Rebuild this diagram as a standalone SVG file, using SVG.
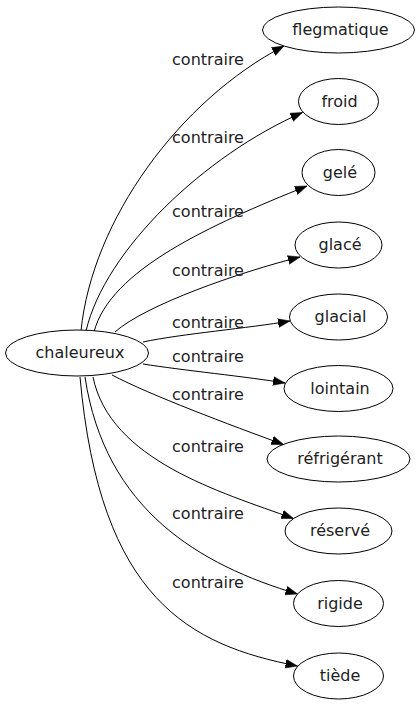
<svg xmlns="http://www.w3.org/2000/svg" width="420" height="707" viewBox="0 0 420 707">
<style>
.n ellipse{fill:#fff;stroke:#000;stroke-width:1}
text{font-family:"DejaVu Sans",sans-serif;font-size:16px;fill:#222;text-anchor:middle}
.e path{fill:none;stroke:#000;stroke-width:1;marker-end:url(#ah)}
</style>
<defs>
<marker id="ah" markerUnits="userSpaceOnUse" markerWidth="13" markerHeight="10" refX="12" refY="5" orient="auto">
<path d="M0,0.6 L12,5 L0,9.4 z" fill="#000" stroke="#000" stroke-width="0.5"/>
</marker>
</defs>
<rect width="420" height="707" fill="#fff"/>
<g id="edges" class="e">
<path d="M81,331 C92,220 180,100 284,46"/>
<path d="M86,331 C105,250 205,155 302.5,112.5"/>
<path d="M94,332 C110,270 210,225 307,186"/>
<path d="M115,332 C145,305 240,272 300,257"/>
<path d="M143,342 C180,334 250,328 290,321"/>
<path d="M143,364 C180,370 250,377 285,383"/>
<path d="M112,375 C150,395 230,425 283.5,444.5"/>
<path d="M93,377 C110,460 220,492 293.5,518.5"/>
<path d="M85,377 C105,510 200,565 297.5,594"/>
<path d="M80,377 C100,600 190,645 297.5,666"/>
</g>
<g id="labels">
<text x="208" y="65">contraire</text>
<text x="208" y="143">contraire</text>
<text x="208" y="217">contraire</text>
<text x="208" y="276">contraire</text>
<text x="208" y="328">contraire</text>
<text x="208" y="362">contraire</text>
<text x="208" y="400">contraire</text>
<text x="208" y="452">contraire</text>
<text x="208" y="519">contraire</text>
<text x="208" y="588">contraire</text>
</g>
<g id="chaleureux" class="n"><ellipse cx="77" cy="353" rx="71.5" ry="23"/><text x="80" y="358">chaleureux</text></g>
<g id="flegmatique" class="n"><ellipse cx="338.5" cy="30" rx="76" ry="23"/><text x="340.5" y="35">flegmatique</text></g>
<g id="froid" class="n"><ellipse cx="338.5" cy="101.5" rx="40" ry="23"/><text x="339.5" y="106.5">froid</text></g>
<g id="gele" class="n"><ellipse cx="338.5" cy="172.5" rx="36.5" ry="23"/><text x="340" y="177.5">gelé</text></g>
<g id="glace" class="n"><ellipse cx="338.5" cy="245" rx="43.5" ry="23"/><text x="340" y="250">glacé</text></g>
<g id="glacial" class="n"><ellipse cx="338.5" cy="317" rx="49" ry="23"/><text x="340.5" y="322">glacial</text></g>
<g id="lointain" class="n"><ellipse cx="338.5" cy="388.5" rx="54.5" ry="23"/><text x="340" y="393.5">lointain</text></g>
<g id="refrigerant" class="n"><ellipse cx="338.5" cy="459" rx="71.5" ry="23"/><text x="340" y="464">réfrigérant</text></g>
<g id="reserve" class="n"><ellipse cx="338.5" cy="531" rx="53.5" ry="23"/><text x="340" y="536">réservé</text></g>
<g id="rigide" class="n"><ellipse cx="338.5" cy="603.5" rx="45" ry="23"/><text x="340" y="608.5">rigide</text></g>
<g id="tiede" class="n"><ellipse cx="338.5" cy="676" rx="45" ry="23"/><text x="340" y="681">tiède</text></g>
</svg>
